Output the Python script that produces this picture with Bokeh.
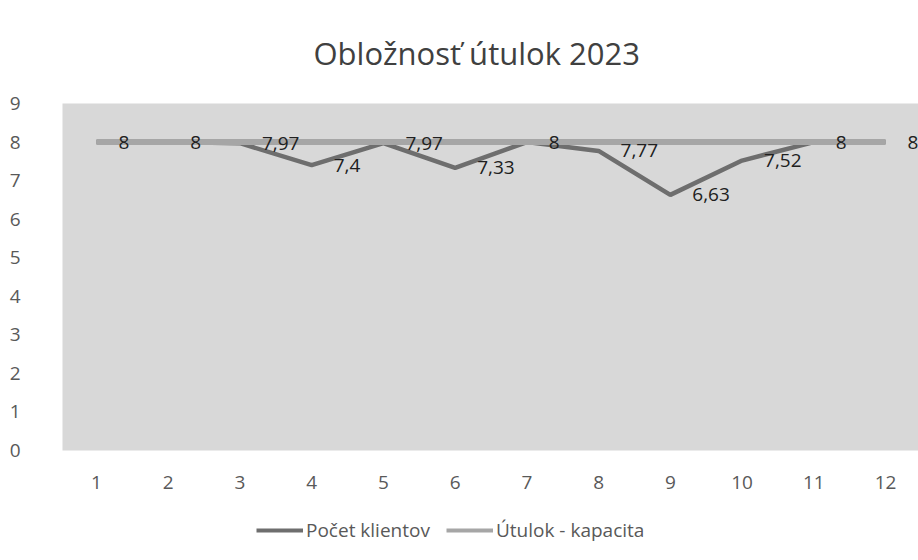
from bokeh.plotting import figure
from bokeh.layouts import column
from bokeh.models import ColumnDataSource, Legend, LegendItem, FixedTicker, Range1d, LabelSet
from bokeh.core.properties import value
from bokeh.embed import file_html
from bokeh.resources import INLINE

months = [1, 2, 3, 4, 5, 6, 7, 8, 9, 10, 11, 12]
pocet_klientov = [8, 8, 7.97, 7.4, 7.97, 7.33, 8, 7.77, 6.63, 7.52, 8, 8]
kapacita = [8, 8, 8, 8, 8, 8, 8, 8, 8, 8, 8, 8]
labels = [("%g" % v).replace(".", ",") for v in pocet_klientov]

src = ColumnDataSource(dict(x=months, klienti=pocet_klientov, kap=kapacita, lab=labels))

FONT = "Open Sans"
DARK = "#6e6e6e"
LIGHT = "#a6a6a6"

p = figure(width=918, height=505, output_backend="svg", toolbar_location=None,
           x_range=Range1d(0.526, 12.46), y_range=Range1d(0, 9),
           min_border_left=62, min_border_right=0, min_border_top=103, min_border_bottom=55)

p.background_fill_color = "#d8d8d8"
p.border_fill_color = "white"
p.outline_line_color = None
p.xgrid.grid_line_color = None
p.ygrid.grid_line_color = None

p.title.text = "Obložnosť útulok 2023"
p.title.align = "left"
p.title.offset = 251
p.title.text_font = FONT
p.title.text_font_style = "normal"
p.title.text_font_size = "31px"
p.title.text_color = "#404040"
p.title.standoff = 59

r1 = p.line("x", "klienti", source=src, line_color=DARK, line_width=4.5)
r2 = p.line("x", "kap", source=src, line_color=LIGHT, line_width=6)

lbl = LabelSet(x="x", y="klienti", text="lab", source=src, x_offset=22, y_offset=0,
               text_baseline="middle", text_align="left", text_font=value(FONT),
               text_font_size="19px", text_color="#202020")
p.add_layout(lbl)

for ax in (p.xaxis[0], p.yaxis[0]):
    ax.axis_line_color = None
    ax.major_tick_line_color = None
    ax.minor_tick_line_color = None
    ax.major_label_text_font = FONT
    ax.major_label_text_font_size = "19px"
    ax.major_label_text_color = "#595959"

p.xaxis[0].ticker = FixedTicker(ticks=months)
p.yaxis[0].ticker = FixedTicker(ticks=list(range(0, 10)))
p.xaxis[0].major_label_standoff = 19
p.yaxis[0].major_label_standoff = 36

# legend strip below the chart
lg = figure(width=918, height=50, output_backend="svg", toolbar_location=None,
            x_range=Range1d(0, 1), y_range=Range1d(100, 101),
            min_border=0, outline_line_color=None)
lg.axis.visible = False
lg.grid.visible = False
lg.background_fill_color = "white"
lg.border_fill_color = "white"
l1 = lg.line("x", "klienti", source=src, line_color=DARK, line_width=4)
l2 = lg.line("x", "kap", source=src, line_color=LIGHT, line_width=4)

legend = Legend(items=[LegendItem(label="Počet klientov", renderers=[l1]),
                       LegendItem(label="Útulok - kapacita", renderers=[l2])],
                orientation="horizontal", location=(194, 12),
                label_text_font=FONT, label_text_font_size="19px", label_text_color="#595959",
                glyph_width=47, label_standoff=3, spacing=16,
                border_line_color=None, background_fill_alpha=0, margin=0, padding=0)
lg.add_layout(legend)

layout = column(p, lg, spacing=0)
open("out.html", "w").write(file_html(layout, INLINE))
